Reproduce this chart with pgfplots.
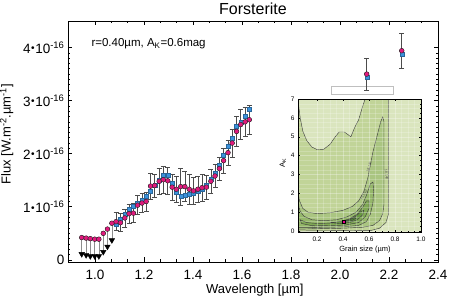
\documentclass[border=0pt]{standalone}
\usepackage{pgfplots}
\pgfplotsset{compat=1.18}
\usepackage{pgfplotstable}
\usepackage{graphicx}
\usepackage{fontspec}
\setmainfont{Liberation Sans}

\definecolor{pinkC}{HTML}{E0197D}
\definecolor{blueC}{HTML}{3A92DC}
\definecolor{bgC}{HTML}{DAE5BE}
\definecolor{cA}{HTML}{C1D498}
\definecolor{cB}{HTML}{AAC581}
\definecolor{cC}{HTML}{95B76A}
\definecolor{cD}{HTML}{7FA854}
\definecolor{cE}{HTML}{699842}
\definecolor{cF}{HTML}{4F8530}

\newcommand{\ylab}[1]{#1\kern0.6pt\raisebox{0.12em}{\scalebox{0.75}{\textbullet}}\kern0.6pt10\textsuperscript{-16}}

% lower-limit part of the spectrum (pink point, triangle, length of the line)
\pgfplotstableread{
lam   pink  tri   dl
0.946 0.42  0.11  0.31
0.964 0.41  0.09  0.32
0.981 0.40  0.07  0.33
0.999 0.39  0.07  0.32
1.016 0.39  0.07  0.32
1.034 0.50  0.15  0.35
1.051 0.58  0.25  0.33
1.069 0.69  0.37  0.32
}\lims

% spectrum: model (pink), observed (blue), error
\pgfplotstableread{
lam   pink  blue  err
1.086 0.72  0.68  0.17
1.104 0.70  0.76  0.17
1.122 0.79  0.86  0.17
1.139 0.87  0.95  0.18
1.157 0.88  1.02  0.18
1.174 1.03  1.07  0.18
1.192 1.07  1.13  0.18
1.209 1.10  1.20  0.18
1.227 1.39  1.30  0.25
1.244 1.40  1.40  0.22
1.262 1.48  1.50  0.25
1.279 1.51  1.59  0.25
1.297 1.49  1.60  0.25
1.315 1.37  1.45  0.25
1.332 1.33  1.28  0.25
1.350 1.38  1.20  0.35
1.367 1.38  1.22  0.28
1.385 1.33  1.23  0.28
1.402 1.30  1.26  0.25
1.420 1.33  1.29  0.25
1.437 1.36  1.33  0.25
1.455 1.37  1.40  0.22
1.473 1.48  1.52  0.22
1.490 1.58  1.63  0.22
1.508 1.72  1.79  0.22
1.525 1.87  1.98  0.24
1.543 2.02  2.14  0.24
1.560 2.20  2.29  0.26
1.578 2.42  2.52  0.28
1.595 2.55  2.60  0.28
1.613 2.60  2.71  0.28
1.630 2.64  2.84  0.28
2.109 3.50  3.44  0.30
2.252 3.94  3.88  0.33
}\spec

\begin{document}
\begin{tikzpicture}
\path[use as bounding box] (-68pt,-43pt) rectangle (390pt,262pt);
\begin{axis}[
  at={(0pt,0pt)}, anchor=south west, scale only axis,
  width=370pt, height=241pt,
  xmin=0.89, xmax=2.4, ymin=-0.04, ymax=4.5,
  xtick={1.0,1.2,1.4,1.6,1.8,2.0,2.2,2.4},
  xticklabels={1.0,1.2,1.4,1.6,1.8,2.0,2.2,2.4},
  ytick={0,1,2,3,4},
  yticklabels={0,\ylab{1},\ylab{2},\ylab{3},\ylab{4}},
  minor x tick num=2, minor y tick num=9,
  tick align=inside, major tick length=4.5pt, minor tick length=2.5pt,
  tick style={black, line width=0.6pt},
  axis line style={line width=0.8pt},
  tick label style={font=\fontsize{13.5}{15}\selectfont},
  xticklabel style={yshift=-5pt},
  xlabel={Wavelength [µm]},
  ylabel={Flux [W.m\textsuperscript{-2}.µm\textsuperscript{-1}]},
  label style={font=\fontsize{13}{15}\selectfont},
  xlabel style={at={(axis description cs:0.505,-0.115)}, anchor=center},
  ylabel style={at={(axis description cs:-0.138,0.53)}, anchor=south},
]
\draw[black!25, fill=white, line width=0.5pt] (axis cs:1.963,3.12) rectangle (axis cs:2.216,3.27);
\addplot[only marks, mark=none, error bars/.cd, y dir=minus, y explicit, error mark=none,
  error bar style={draw=black!45, line width=0.5pt}] table[x=lam, y=pink, y error=dl]{\lims};
\addplot[only marks, mark=triangle*, mark size=3.2pt, mark options={rotate=180, fill=black, draw=black}]
  table[x=lam, y=tri]{\lims};
\addplot[only marks, mark=none, error bars/.cd, y dir=both, y explicit,
  error bar style={draw=black!70, line width=0.6pt},
  error mark options={rotate=90, mark size=2.5pt, draw=black!70, line width=0.6pt}]
  table[x=lam, y=pink, y error=err]{\spec};
\addplot[only marks, mark=square*, mark size=2pt, mark options={fill=blueC, draw=blueC!70!black, line width=0.3pt}]
  table[x=lam, y=blue]{\spec};
\addplot[only marks, mark=*, mark size=2.4pt, mark options={fill=pinkC, draw=black!85, line width=0.4pt}]
  table[x=lam, y=pink]{\spec};
\addplot[only marks, mark=*, mark size=2.4pt, mark options={fill=pinkC, draw=black!85, line width=0.4pt}]
  table[x=lam, y=pink]{\lims};
\node[anchor=base west, font=\fontsize{11.5}{13}\selectfont] at (axis description cs:0.054,0.893)
  {r=0.40µm, A\textsubscript{K}=0.6mag};
\end{axis}
\node[anchor=base, font=\fontsize{16}{18}\selectfont] at (185pt,247pt) {Forsterite};

\begin{axis}[
  at={(230pt,30pt)}, anchor=south west, scale only axis,
  width=123pt, height=133pt,
  xmin=0.053, xmax=1.0, ymin=-0.05, ymax=7,
  xtick={0.2,0.4,0.6,0.8,1.0}, xticklabels={0.2,0.4,0.6,0.8,1.0},
  ytick={0,1,2,3,4,5,6,7}, yticklabels={0,1,2,3,4,5,6,7},
  minor x tick num=3, minor y tick num=3,
  tick align=inside, major tick length=2.2pt, minor tick length=1.2pt,
  tick style={black, line width=0.4pt},
  axis line style={line width=0.5pt},
  axis on top,
  grid=both, grid style={white, opacity=0.3, line width=0.3pt},
  minor grid style={white, opacity=0.2, line width=0.25pt},
  axis background/.style={fill=bgC},
  tick label style={font=\fontsize{6.5}{7}\selectfont},
  xticklabel style={yshift=-1.5pt},
  xlabel={Grain size (µm)}, ylabel={A\textsubscript{K}},
  label style={font=\fontsize{7.5}{8}\selectfont},
  xlabel style={at={(axis description cs:0.545,-0.135)}, anchor=center},
  ylabel style={at={(axis description cs:-0.122,0.52)}, anchor=center},
]
\addplot[fill=cA, draw=black!75, line width=0.45pt] coordinates {
 (0.053,6.9) (0.07,6.0) (0.09,5.3) (0.12,4.8) (0.16,4.45) (0.2,4.32) (0.25,4.33) (0.3,4.6)
 (0.34,5.0) (0.37,5.25) (0.41,5.25) (0.44,5.1) (0.46,5.0) (0.49,5.5) (0.52,5.9) (0.55,6.6) (0.57,7.0)
 (0.75,7.0) (0.75,0.9) (0.73,0.45) (0.68,0.15) (0.62,0.04) (0.053,0.0) } -- cycle;
\addplot[fill=cB, draw=black!75, line width=0.45pt] coordinates {
 (0.053,2.05) (0.065,1.6) (0.09,1.2) (0.13,1.0) (0.2,0.92) (0.3,0.97) (0.4,1.1) (0.47,1.3)
 (0.52,1.6) (0.56,2.1) (0.59,2.8) (0.61,3.5) (0.63,4.2) (0.66,5.0) (0.69,5.8) (0.705,6.05)
 (0.715,5.8) (0.715,1.4) (0.705,0.9) (0.68,0.55) (0.63,0.3) (0.55,0.2) (0.4,0.15) (0.2,0.12) (0.053,0.1) } -- cycle;
\addplot[fill=cC, draw=black!75, line width=0.45pt] coordinates {
 (0.053,1.45) (0.07,1.05) (0.1,0.78) (0.16,0.6) (0.25,0.55) (0.35,0.6) (0.43,0.75) (0.5,1.0)
 (0.55,1.4) (0.58,1.9) (0.61,2.5) (0.63,2.6) (0.635,2.2) (0.63,1.5) (0.61,0.9) (0.58,0.5)
 (0.52,0.3) (0.4,0.22) (0.2,0.2) (0.053,0.2) } -- cycle;
\addplot[fill=cD, draw=black!75, line width=0.45pt] coordinates {
 (0.07,0.6) (0.12,0.45) (0.2,0.4) (0.3,0.42) (0.38,0.5) (0.45,0.65) (0.51,0.9) (0.55,1.25)
 (0.58,1.6) (0.6,1.6) (0.6,1.2) (0.57,0.75) (0.52,0.45) (0.42,0.32) (0.3,0.28) (0.15,0.3) (0.08,0.4) } -- cycle;
\addplot[fill=cE, draw=black!75, line width=0.45pt] coordinates {
 (0.3,0.45) (0.38,0.5) (0.45,0.62) (0.5,0.8) (0.54,1.05) (0.56,1.1) (0.55,0.85) (0.51,0.6)
 (0.45,0.45) (0.37,0.4) } -- cycle;
\addplot[fill=cF, draw=black!75, line width=0.45pt] coordinates {
 (0.4,0.52) (0.45,0.6) (0.49,0.72) (0.5,0.68) (0.47,0.56) (0.42,0.5) } -- cycle;
\node[font=\fontsize{3.5}{4}\selectfont, text=black!70, rotate=72] at (axis cs:0.60,3.4) {18.140};
\node[font=\fontsize{3.5}{4}\selectfont, text=black!70, rotate=-85] at (axis cs:0.735,3.0) {18.140};
\node[font=\fontsize{3.5}{4}\selectfont, text=black!70, rotate=60] at (axis cs:0.56,1.9) {18.140};
\node[font=\fontsize{3.5}{4}\selectfont, text=black!70] at (axis cs:0.2,0.12) {18.140};
\addplot[only marks, mark=square*, mark size=1.6pt, mark options={fill=magenta, draw=black, line width=0.3pt}]
  coordinates {(0.405,0.5)};
\end{axis}
\end{tikzpicture}
\end{document}
